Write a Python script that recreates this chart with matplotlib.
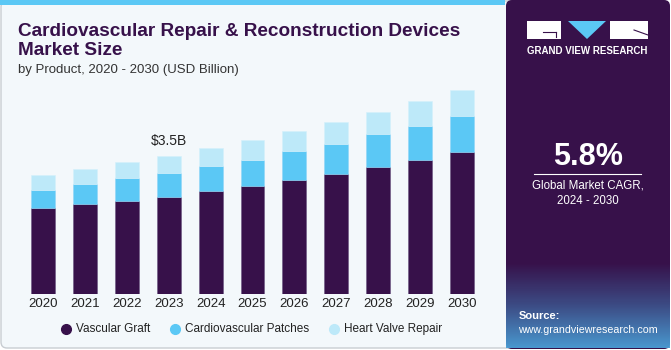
import numpy as np
import matplotlib
matplotlib.use("Agg")
from matplotlib import pyplot as plt
from matplotlib.patches import Rectangle, FancyBboxPatch, Polygon
from matplotlib.colors import LinearSegmentedColormap

years = ['2020', '2021', '2022', '2023', '2024', '2025', '2026', '2027', '2028', '2029', '2030']
vascular_graft = [2.17, 2.28, 2.36, 2.47, 2.62, 2.74, 2.90, 3.04, 3.22, 3.39, 3.59]
cardio_patches = [0.48, 0.51, 0.58, 0.61, 0.63, 0.66, 0.72, 0.76, 0.83, 0.88, 0.93]
heart_valve = [0.38, 0.37, 0.41, 0.42, 0.46, 0.50, 0.51, 0.55, 0.56, 0.62, 0.65]
series_names = ['Vascular Graft', 'Cardiovascular Patches', 'Heart Valve Repair']
label_year = '2023'
label_text = '$3.5B'

PURPLE = '#37114a'
BLUE = '#5bc8f5'
LIGHT = '#bde9f9'
BG = '#f3f8fb'

plt.rcParams['font.family'] = ['Liberation Sans', 'DejaVu Sans']

W, H = 671, 350
fig = plt.figure(figsize=(W / 100, H / 100), dpi=100)
fig.patch.set_facecolor('white')

# background card + top stripe
bg = fig.add_axes([0, 0, 1, 1])
bg.axis('off')
bg.add_patch(FancyBboxPatch((1, 1), W - 3, H - 3, boxstyle='round,pad=0,rounding_size=6',
                            facecolor=BG, edgecolor='#c8cdd2', linewidth=1))
bg.add_patch(Rectangle((0, 0), 505, 5, facecolor=BLUE, edgecolor='none'))

# right panel with fading bottom
bg.add_patch(FancyBboxPatch((506, 0), 164, 349, boxstyle='round,pad=0,rounding_size=6',
                            facecolor=PURPLE, edgecolor='none'))
grad = np.linspace(0, 1, 100).reshape(-1, 1)
cmap = LinearSegmentedColormap.from_list('g', [PURPLE, '#3d4f88', '#4a9fd6'])
bg.imshow(grad, cmap=cmap, extent=(506, 670, 348, 262), aspect='auto', alpha=0.95, zorder=1)
bg.set_xlim(0, W)
bg.set_ylim(H, 0)

# logo
bg.add_patch(Rectangle((527, 21), 34, 18, facecolor='white', edgecolor='none', zorder=3))
bg.plot([543, 556], [32, 32], color=PURPLE, lw=0.8, zorder=4)
bg.plot([556, 556], [32, 37], color=PURPLE, lw=0.8, zorder=4)
bg.add_patch(Polygon([(568, 21), (606, 21), (587, 39)], closed=True, facecolor=BLUE,
                     edgecolor='none', zorder=3))
bg.add_patch(Rectangle((610, 21), 38, 18, facecolor='white', edgecolor='none', zorder=3))
bg.plot([634, 648], [30, 35], color=PURPLE, lw=0.8, zorder=4)
bg.text(587.5, 51, 'GRAND VIEW RESEARCH', color='white', fontsize=7, fontweight='bold',
        ha='center', va='center', zorder=4)

bg.text(588, 157, '5.8%', color='white', fontsize=22, fontweight='bold', ha='center', va='center', zorder=4)
bg.plot([534, 641], [173.5, 173.5], color='white', lw=0.8, zorder=4)
bg.text(588, 186, 'Global Market CAGR,', color='white', fontsize=8.3, ha='center', va='center', zorder=4)
bg.text(588, 201, '2024 - 2030', color='white', fontsize=8.3, ha='center', va='center', zorder=4)
bg.text(519, 316, 'Source:', color='white', fontsize=8, fontweight='bold', ha='left', va='center', zorder=4)
bg.text(518, 330, 'www.grandviewresearch.com', color='white', fontsize=7.7, ha='left', va='center', zorder=4)

# titles
bg.text(18, 36, 'Cardiovascular Repair & Reconstruction Devices', color=PURPLE, fontsize=13.7,
        fontweight='bold', ha='left', va='baseline')
bg.text(18, 55, 'Market Size', color=PURPLE, fontsize=13.7, fontweight='bold', ha='left', va='baseline')
bg.text(18, 73, 'by Product, 2020 - 2030 (USD Billion)', color='#333333', fontsize=9.5,
        ha='left', va='baseline')

# chart
ax = fig.add_axes([22 / W, (H - 294) / H, (483 - 22) / W, 214 / H])
ax.set_facecolor('none')
x = np.arange(len(years))
vg = np.array(vascular_graft)
cp = np.array(cardio_patches)
hv = np.array(heart_valve)
w = 0.57
ax.bar(x, vg, w, color=PURPLE, edgecolor='#6a5580', linewidth=0.4, label=series_names[0])
ax.bar(x, cp, w, bottom=vg, color=BLUE, edgecolor='#8fd6f7', linewidth=0.4, label=series_names[1])
ax.bar(x, hv, w, bottom=vg + cp, color=LIGHT, edgecolor='#d4f0fb', linewidth=0.4, label=series_names[2])
i = years.index(label_year)
ax.text(x[i], vg[i] + cp[i] + hv[i] + 0.28, label_text, ha='center', va='baseline', fontsize=10, color='#222222')
ax.set_xlim(-0.5, len(years) - 0.5)
ax.set_ylim(0, 214 * 3.5 / 138)
ax.set_xticks(x)
ax.set_xticklabels(years, fontsize=9.5, color='#222222')
ax.tick_params(axis='x', length=0, pad=3)
ax.set_yticks([])
for s in ax.spines.values():
    s.set_visible(False)

# legend
leg_x = [66, 175, 334]
for lx, c, name in zip(leg_x, [PURPLE, BLUE, LIGHT], series_names):
    bg.plot(lx, 329, 'o', color=c, markersize=7, zorder=4)
    bg.text(lx + 10, 329, name, fontsize=8.5, color='#222222', ha='left', va='center')

fig.savefig('out.png', dpi=100, facecolor=fig.get_facecolor())
